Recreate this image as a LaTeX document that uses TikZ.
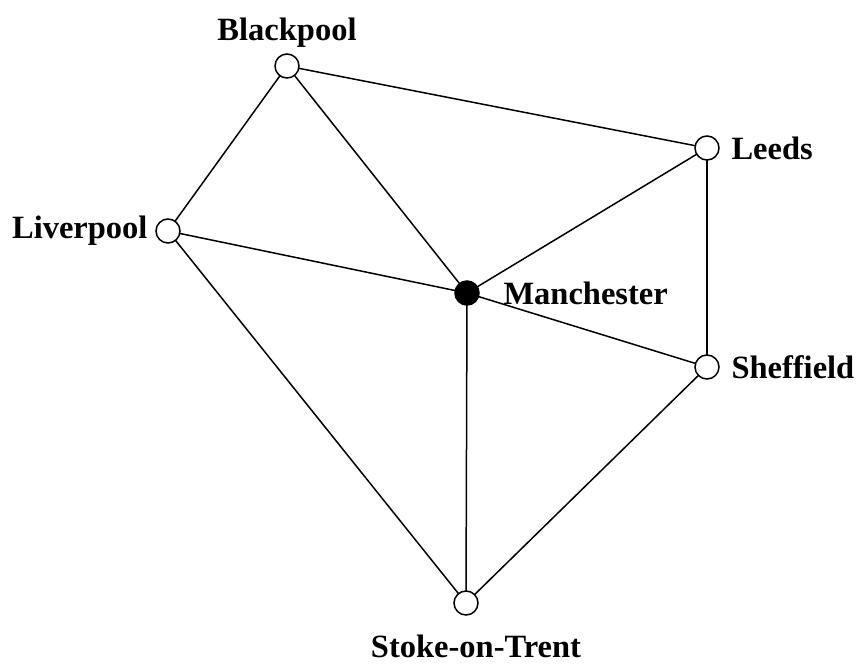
\documentclass[tikz,border=0pt]{standalone}
\usepackage{fontspec}
\setmainfont{Liberation Serif}
\usetikzlibrary{positioning}

\tikzset{
  town/.style={circle,draw,line width=1.5pt,fill=white,minimum size=24pt,inner sep=0pt},
  city/.style={town,fill=black},
  every label/.style={font=\fontsize{32.5}{38}\selectfont\bfseries,inner sep=3pt}
}

\begin{document}
\begin{tikzpicture}[x=1pt,y=-1pt,line width=1.5pt]
  \useasboundingbox (0,0) rectangle (857,665);

  \coordinate (pblackpool) at (287,66);
  \coordinate (pleeds) at (707,148);
  \coordinate (pliverpool) at (168,231);
  \coordinate (pmanchester) at (467,293);
  \coordinate (psheffield) at (707,367);
  \coordinate (pstoke) at (466,603);

  \path (pblackpool) edge (pleeds) edge (pliverpool) edge (pmanchester);
  \path (pleeds) edge (pmanchester) edge (psheffield);
  \path (pliverpool) edge (pmanchester) edge (pstoke);
  \path (pmanchester) edge (psheffield) edge (pstoke);
  \path (psheffield) edge (pstoke);

  \node (blackpool) [town,label={[label distance=2pt]above:Blackpool}] at (pblackpool) {};
  \node (leeds) [town,label={[label distance=8pt]right:Leeds}] at (pleeds) {};
  \node (liverpool) [town,label={[label distance=4pt]left:Liverpool}] at (pliverpool) {};
  \node (manchester) [city,label={[label distance=20pt]right:Manchester}] at (pmanchester) {};
  \node (sheffield) [town,label={[label distance=8pt]right:Sheffield}] at (psheffield) {};
  \node (stoke) [town,label={[label distance=18pt,inner sep=0pt,xshift=10pt]below:Stoke-on-Trent}] at (pstoke) {};
\end{tikzpicture}
\end{document}
